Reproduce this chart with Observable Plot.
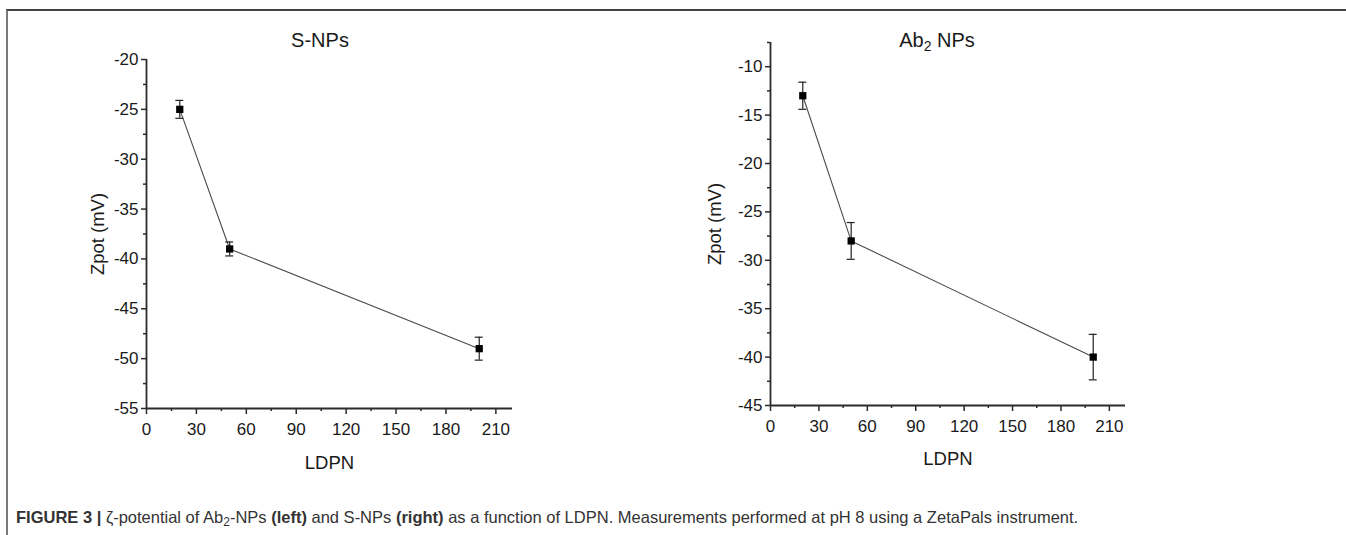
<!DOCTYPE html>
<html>
<head>
<meta charset="utf-8">
<script src="https://cdn.jsdelivr.net/npm/d3@7"></script>
<script src="https://cdn.jsdelivr.net/npm/@observablehq/plot@0.6"></script>
<style>
  html, body { margin: 0; padding: 0; background: #fff; }
  #root { position: relative; width: 1346px; height: 535px; overflow: hidden; font-family: "Liberation Sans", Arial, sans-serif; }
  .frame { position: absolute; left: 6px; top: 9px; right: -4px; bottom: -4px; border-top: 2px solid #444; border-left: 2px solid #7a7a7a; }
  .panel { position: absolute; top: 0; }
  .title { position: absolute; transform: translate(-50%, -50%); font-size: 20px; color: #1a1a1a; white-space: nowrap; }
  .title sub { font-size: 14px; vertical-align: -4px; line-height: 0; }
  .caption { position: absolute; left: 16px; top: 507px; font-size: 16.5px; color: #333; white-space: nowrap; line-height: 20px; }
  .caption sub { font-size: 12px; vertical-align: -3px; line-height: 0; }
</style>
</head>
<body>
<div id="root">
  <div class="frame"></div>
  <div class="panel" id="left" style="left:0px"></div>
  <div class="panel" id="right" style="left:680px"></div>
  <div class="title" style="left:320px; top:40px">S-NPs</div>
  <div class="title" style="left:937px; top:40px">Ab<sub>2</sub> NPs</div>
  <div class="caption"><b>FIGURE 3 |</b> ζ-potential of Ab<sub>2</sub>-NPs <b>(left)</b> and S-NPs <b>(right)</b> as a function of LDPN. Measurements performed at pH 8 using a ZetaPals instrument.</div>
</div>
<script>
// ---- data ----
const ldpn = [20, 50, 200];
const sNPsZpot = [-25, -39, -49];
const sNPsErr = [0.9, 0.7, 1.15];
const ab2Zpot = [-13, -28, -40];
const ab2Err = [1.4, 1.9, 2.35];

const xTicks = [0, 30, 60, 90, 120, 150, 180, 210];
const xMinorTicks = [15, 45, 75, 105, 135, 165, 195];
const yTicksLeft = [-55, -50, -45, -40, -35, -30, -25, -20];
const yMinorLeft = [-52.5, -47.5, -42.5, -37.5, -32.5, -27.5, -22.5];
const yTicksRight = [-45, -40, -35, -30, -25, -20, -15, -10];
const yMinorRight = [-42.5, -37.5, -32.5, -27.5, -22.5, -17.5, -12.5, -7.5];

const xLabel = "LDPN";
const yLabel = "Zpot (mV)";

const FONT = '"Liberation Sans", Arial, sans-serif';

function panel(opts) {
  const rows = ldpn.map((x, i) => ({x, y: opts.z[i], e: opts.err[i]}));
  const ink = "#2b2b2b";
  return Plot.plot({
    width: opts.width,
    height: 480,
    marginLeft: opts.ml,
    marginRight: opts.mr,
    marginTop: opts.mt,
    marginBottom: opts.mb,
    style: {fontFamily: FONT, fontSize: "17px", color: "#1a1a1a", background: "transparent", overflow: "visible"},
    x: {domain: [0, 220], axis: null},
    y: {domain: opts.ydom, axis: null},
    marks: [
      Plot.axisX(xTicks, {tickSize: 6, tickPadding: 8, tickFormat: d => String(d), fontSize: 17, stroke: ink, strokeWidth: 1.5, label: null}),
      Plot.axisX(xMinorTicks, {tickSize: 3, tickFormat: () => "", stroke: ink, strokeWidth: 1.5, label: null}),
      Plot.axisY(opts.yticks, {tickSize: 5, tickPadding: 3, tickFormat: d => String(d), fontSize: 17, stroke: ink, strokeWidth: 1.5, label: null}),
      Plot.axisY(opts.yminor, {tickSize: 3, tickFormat: () => "", stroke: ink, strokeWidth: 1.5, label: null}),
      Plot.ruleY([opts.ydom[0]], {stroke: ink, strokeWidth: 1.8}),
      Plot.ruleX([0], {stroke: ink, strokeWidth: 1.8}),
      Plot.line(rows, {x: "x", y: "y", stroke: "#4a4a4a", strokeWidth: 1.1}),
      Plot.ruleX(rows, {x: "x", y1: d => d.y - d.e, y2: d => d.y + d.e, stroke: "#222", strokeWidth: 1.2}),
      Plot.ruleY(rows, {y: d => d.y + d.e, x1: "x", x2: "x", insetLeft: -4, insetRight: -4, stroke: "#222", strokeWidth: 1.2}),
      Plot.ruleY(rows, {y: d => d.y - d.e, x1: "x", x2: "x", insetLeft: -4, insetRight: -4, stroke: "#222", strokeWidth: 1.2}),
      Plot.dot(rows, {x: "x", y: "y", symbol: "square", r: 4.1, fill: "#000", stroke: "none"}),
      Plot.text([xLabel], {frameAnchor: "bottom", dy: opts.xlabDy, textAnchor: "middle", lineAnchor: "middle", fontSize: 18.5, fill: "#1a1a1a"}),
      Plot.text([yLabel], {frameAnchor: "left", dx: opts.ylabDx, textAnchor: "middle", lineAnchor: "middle", rotate: -90, fontSize: 18.5, fill: "#1a1a1a"})
    ]
  });
}

document.getElementById("left").appendChild(panel({
  z: sNPsZpot, err: sNPsErr, ydom: [-55, -20], yticks: yTicksLeft, yminor: yMinorLeft,
  width: 680, ml: 146, mr: 168, mt: 59, mb: 72, xlabDy: 55, ylabDx: -48
}));
document.getElementById("right").appendChild(panel({
  z: ab2Zpot, err: ab2Err, ydom: [-45, -7.5], yticks: yTicksRight, yminor: yMinorRight,
  width: 666, ml: 90, mr: 221, mt: 42, mb: 75, xlabDy: 54, ylabDx: -55
}));
</script>
</body>
</html>
